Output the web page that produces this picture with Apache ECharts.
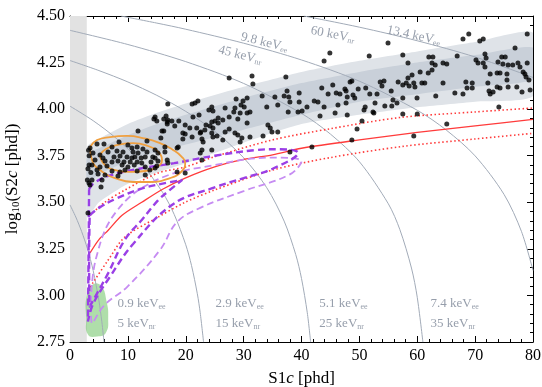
<!DOCTYPE html>
<html><head><meta charset="utf-8">
<script src="https://cdn.jsdelivr.net/npm/echarts@6/dist/echarts.min.js"></script>
<style>html,body{margin:0;padding:0;background:#fff}#c{width:542px;height:387px}</style>
</head><body><div id="c"></div>
<script>
// ---------- DATA ----------
const xTicks = [0,10,20,30,40,50,60,70,80];
const yTicks = [2.75,3.00,3.25,3.50,3.75,4.00,4.25,4.50];

// ER band (S1 sample points, outer & inner bounds of log10 S2)
const bandS1      = [3,    5,    10,   15,   20,   30,   40,   50,   60,   70,   80];
const erOuterTop  = [3.80, 3.84, 3.92, 3.98, 4.03, 4.12, 4.20, 4.26, 4.31, 4.36, 4.41];
const erOuterBot  = [3.42, 3.50, 3.60, 3.66, 3.71, 3.82, 3.92, 3.97, 4.01, 4.04, 4.07];
const erInnerTop  = [3.76, 3.79, 3.86, 3.92, 3.97, 4.06, 4.14, 4.20, 4.25, 4.29, 4.33];
const erInnerBot  = [3.60, 3.65, 3.72, 3.77, 3.81, 3.89, 3.97, 4.04, 4.08, 4.12, 4.16];

// NR band lines
const nrMedian = [[3.46,3.228],[5,3.30],[6.6,3.35],[9,3.43],[12.4,3.50],[16,3.57],[19.9,3.63],[25,3.69],[30,3.73],[35,3.755],[40,3.79],[50,3.835],[60,3.875],[70,3.91],[80,3.945]];
const nrUpper  = [[3.46,3.43],[6,3.50],[9.5,3.566],[15.2,3.657],[20,3.69],[25,3.745],[35,3.835],[45,3.895],[57,3.955],[70,3.985],[80,4.006]];
const nrLower  = [[3.46,3.045],[4,3.07],[6.6,3.19],[9.5,3.314],[15.2,3.42],[19.9,3.50],[25,3.566],[35,3.673],[45,3.74],[57.5,3.80],[70,3.84],[80,3.87]];

// Iso-energy lines (S1, log10 S2)
const isoA = [[0,3.486],[1,3.421],[2,3.344],[3,3.252],[4,3.134],[5,2.971],[5.5,2.859],[5.88,2.749]];
const isoB = [[0,4.016],[4,3.938],[8,3.843],[12,3.722],[16,3.553],[18,3.435],[20,3.272],[21,3.160],[22,3.009],[22.5,2.907],[23.08,2.749]];
const isoC = [[0,4.261],[5,4.207],[10,4.146],[15,4.074],[20,3.988],[25,3.881],[30,3.739],[34,3.578],[37,3.399],[39,3.220],[40,3.091],[41,2.907],[41.58,2.749]];
const isoD = [[0,4.423],[10,4.347],[20,4.255],[30,4.138],[40,3.977],[45,3.866],[50,3.718],[55,3.492],[57,3.353],[59,3.147],[60,2.990],[60.98,2.749]];
const isoE = [[8.8,4.5],[15,4.462],[20,4.429],[30,4.354],[40,4.264],[50,4.150],[60,3.994],[65,3.888],[70,3.749],[75,3.542],[78,3.344],[80,3.134]];
const isoF = [[40.4,4.5],[50,4.440],[60,4.367],[70,4.280],[80,4.170]];

// Contours
const orangeOuter = [[3.46,3.797],[4.67,3.834],[6.91,3.850],[9.85,3.856],[12.6,3.845],[15.55,3.818],[17.8,3.781],[19.35,3.743],[19.9,3.711],[19.35,3.668],[17.3,3.630],[13.8,3.609],[10.9,3.609],[7.78,3.630],[5.18,3.673],[3.8,3.727],[3.46,3.797]];
const orangeInner = [[5.18,3.754],[6.22,3.786],[8.29,3.808],[10.9,3.818],[13.5,3.802],[15.2,3.770],[15.9,3.727],[15.0,3.689],[13.0,3.668],[10.4,3.663],[7.78,3.673],[5.87,3.706],[5.18,3.754]];
const purpleDarkSmall = [[3.4,3.43],[5,3.47],[8,3.52],[12,3.57],[16,3.60],[19.4,3.62],[17,3.56],[15.2,3.51],[12.4,3.405],[9.5,3.30],[6.6,3.12],[4.3,2.99],[3.4,2.94],[3.3,3.2],[3.4,3.43]];
const purpleDarkBig = [[3.3,3.57],[4,3.60],[6.5,3.64],[12,3.68],[18,3.71],[25,3.75],[32,3.78],[36,3.785],[39.4,3.765],[35,3.68],[30,3.63],[25,3.58],[17.8,3.49],[10.9,3.276],[6.9,3.10],[4.0,2.955],[3.1,2.86],[3.2,3.2],[3.3,3.57]];
const purpleLight = [[3.6,2.95],[3.8,2.85],[6,2.95],[9.85,3.045],[15.55,3.244],[18.5,3.394],[22.5,3.47],[30,3.56],[38,3.65],[40,3.72],[35,3.74],[25,3.70],[15,3.62],[8,3.45],[4.5,3.2],[3.6,2.95]];
const greenBlob = [[2.9,3.0],[4.0,3.06],[5.4,3.05],[6.3,2.97],[6.6,2.88],[6.2,2.80],[4.7,2.78],[3.1,2.79],[2.8,2.88]];
const thresholdS1 = [0, 2.9];

// Events
const events = [
[14.5,3.947],[15.0,3.936],[16.2,3.947],[16.8,3.931],[17.6,3.936],[11.75,3.883],[16.2,3.883],[15.7,3.845],[8.47,3.824],[13.3,3.829],
[4.67,3.813],[5.87,3.813],[3.46,3.791],[7.26,3.797],[10.0,3.808],[10.7,3.791],[11.6,3.797],[12.6,3.786],[16.4,3.797],[6.57,3.770],
[8.12,3.775],[9.16,3.770],[10.9,3.770],[11.75,3.765],[13.3,3.770],[14.7,3.781],[3.97,3.765],[5.18,3.754],[5.70,3.738],[7.60,3.743],
[8.64,3.748],[9.85,3.743],[10.7,3.738],[11.2,3.743],[12.3,3.738],[13.0,3.743],[14.3,3.743],[4.32,3.727],[6.05,3.722],[7.26,3.716],
[8.29,3.722],[9.33,3.716],[10.4,3.716],[11.6,3.716],[12.4,3.711],[14.0,3.716],[15.2,3.722],[16.8,3.727],[3.80,3.700],[5.18,3.689],
[6.39,3.695],[9.0,3.700],[10.0,3.689],[11.1,3.700],[13.0,3.689],[15.0,3.695],[4.67,3.673],[7.26,3.668],[8.64,3.663],[9.5,3.673],
[11.6,3.668],[13.8,3.673],[4.84,3.652],[6.05,3.646],[8.29,3.641],[3.80,3.620],[5.53,3.620],[14.7,3.684],[13.0,3.646],[3.46,3.593],
[5.36,3.582],[16.9,3.711],[3.28,3.604],[3.11,3.443],[3.0,3.62],[3.3,3.70],[3.2,3.78],[3.3,3.75],[3.6,3.66],[3.1,3.68],
[27.5,4.167],[31.45,4.178],[31.6,4.135],[33.2,4.071],[21.1,4.028],[21.6,4.033],[22.1,4.044],[29.9,4.044],[28.7,4.054],[30.6,4.060],
[34.0,4.012],[24.0,3.995],[24.7,3.990],[26.8,4.006],[29.55,4.022],[30.1,4.012],[31.1,3.985],[28.3,3.985],[30.6,3.979],[29.4,3.979],
[22.3,3.969],[21.25,3.958],[27.5,3.958],[25.6,3.952],[26.4,3.942],[25.05,3.936],[24.5,3.931],[29.0,3.947],[18.8,3.936],[19.9,3.915],
[18.1,3.910],[23.5,3.915],[24.2,3.910],[25.6,3.926],[30.6,3.926],[34.2,3.915],[34.6,3.899],[21.9,3.899],[20.7,3.899],[23.3,3.888],
[24.7,3.899],[27.5,3.893],[19.9,3.867],[22.6,3.877],[24.7,3.850],[26.4,3.834],[29.0,3.861],[29.7,3.845],[31.1,3.850],[33.35,3.856],
[34.9,3.877],[35.9,3.877],[19.5,3.840],[22.8,3.840],[23.0,3.824],[29.4,3.824],[18.7,3.797],[22.8,3.781],[24.5,3.781],[22.8,3.727],
[22.5,3.765],[18.5,3.663],[19.9,3.657],[16.9,4.028],[14.7,3.958],[16.6,3.963],[16.9,3.942],[16.8,3.920],[15.9,3.883],[19.5,3.872],
[21.1,3.850],[22.5,3.872],[24.5,3.872],[25.4,3.856],[26.8,3.877],[28.5,3.872],[18.5,3.791],[15.2,3.765],[16.4,3.770],[14.7,3.738],
[28.5,4.006],[24.5,4.012],[35.9,4.022],
[54.95,4.355],[44.9,4.301],[51.7,4.285],[43.9,4.258],[57.5,4.291],[37.3,4.173],[48.7,4.151],[48.4,4.146],[53.6,4.146],[54.25,4.151],
[56.7,4.146],[45.4,4.130],[57.5,4.130],[53.9,4.124],[49.8,4.108],[51.1,4.113],[47.5,4.108],[43.5,4.113],[37.5,4.097],[39.6,4.087],
[44.6,4.081],[46.0,4.087],[46.65,4.081],[47.7,4.097],[48.9,4.076],[51.8,4.081],[53.05,4.081],[55.5,4.097],[49.2,4.060],[47.9,4.065],
[37.0,4.071],[37.8,4.065],[38.0,4.038],[39.6,4.038],[42.2,4.044],[42.85,4.038],[35.4,4.065],[55.8,4.049],[56.5,4.033],[52.7,4.033],
[47.7,4.033],[46.3,4.022],[43.9,4.012],[40.95,4.012],[51.0,4.012],[50.8,3.995],[52.35,3.985],[54.4,4.017],[55.6,4.017],[37.7,3.985],
[39.4,3.985],[40.1,3.990],[45.8,3.979],[47.9,3.969],[43.2,3.963],[52.5,3.979],[50.45,3.936],[49.6,3.893],[48.7,3.834],[41.8,3.797],
[38.0,3.770],
[68.9,4.403],[67.9,4.377],[70.8,4.366],[71.4,4.377],[79.0,4.403],[66.9,4.285],[71.7,4.296],[71.9,4.275],[62.0,4.280],[62.7,4.280],
[76.9,4.328],[62.55,4.248],[63.1,4.237],[58.4,4.248],[64.45,4.248],[65.1,4.242],[70.15,4.264],[70.5,4.248],[74.6,4.280],[75.2,4.280],
[73.95,4.253],[74.8,4.242],[75.7,4.237],[76.5,4.237],[77.4,4.248],[77.75,4.226],[79.0,4.248],[71.4,4.248],[71.7,4.226],[60.5,4.199],
[61.9,4.194],[62.55,4.210],[59.1,4.183],[58.4,4.167],[72.6,4.189],[73.8,4.194],[74.3,4.194],[75.5,4.189],[78.3,4.199],[78.6,4.189],
[78.8,4.173],[79.3,4.156],[75.5,4.156],[59.4,4.140],[59.6,4.119],[58.1,4.140],[58.6,4.124],[60.8,4.140],[61.3,4.140],[64.45,4.140],
[68.4,4.146],[69.5,4.140],[68.6,4.113],[69.5,4.113],[72.2,4.140],[73.8,4.119],[72.4,4.097],[72.6,4.081],[73.1,4.092],[74.3,4.113],
[75.7,4.119],[77.2,4.119],[78.1,4.092],[79.5,4.103],[66.5,4.087],[67.9,4.081],[63.2,4.071],[57.5,4.060],[59.96,4.060],[74.1,4.012],
[57.5,3.974],[60.0,3.974],[65.1,3.920],[59.4,3.856]
];

// Energy labels: [S1, log10S2, main, sub, rotate]
const energyLabels = [
  [8.1, 2.954, '0.9 keV', 'ee', 0], [8.1, 2.847, '5 keV', 'nr', 0],
  [25.05, 2.954, '2.9 keV', 'ee', 0], [25.05, 2.847, '15 keV', 'nr', 0],
  [43.0, 2.954, '5.1 keV', 'ee', 0], [43.0, 2.847, '25 keV', 'nr', 0],
  [62.2, 2.954, '7.4 keV', 'ee', 0], [62.2, 2.847, '35 keV', 'nr', 0]
];
const energyLabelsRot = [
  [33.6, 4.358, '9.8 keV', 'ee', -14], [29.4, 4.29, '45 keV', 'nr', -14],
  [45.4, 4.400, '60 keV', 'nr', -11], [59.4, 4.395, '13.4 keV', 'ee', -12]
];

// ---------- CHART ----------
const serif = 'Liberation Serif';
const chart = echarts.init(document.getElementById('c'), null, {renderer:'canvas'});

function zip(xs, ys){ return xs.map((x,i)=>[x, ys[i]]); }
function bandSeries(top, bot, color, z){
  return {type:'custom', z:z, silent:true, clip:true, data:[[40,3.5]],
    renderItem:function(params, api){
      const pts = top.map(p=>api.coord(p)).concat(bot.slice().reverse().map(p=>api.coord(p)));
      return {type:'polygon', shape:{points:pts, smooth:0.2}, style:{fill:color}};
    }};
}
function polySeries(poly, color, z){
  return {type:'custom', z:z, silent:true, clip:true, data:[[40,3.5]],
    renderItem:function(params, api){
      return {type:'polygon', shape:{points:poly.map(p=>api.coord(p)), smooth:0.5}, style:{fill:color}};
    }};
}
function lineS(data, color, width, type, z, smooth){
  return {type:'line', data:data, symbol:'none', smooth: smooth===undefined?0.3:smooth, z:z, silent:true,
    lineStyle:{color:color, width:width, type:type}, clip:true};
}
const axisCommon = {
  axisLine:{show:true, onZero:false, lineStyle:{color:'#000', width:1}},
  axisTick:{show:true, inside:true, length:6, lineStyle:{color:'#000'}},
  minorTick:{show:true, splitNumber:5, length:3, lineStyle:{color:'#000'}},
  splitLine:{show:false}
};
const labelRich = {
  a:{fontFamily:serif, fontSize:13, color:'#7c8696'},
  s:{fontFamily:serif, fontSize:8, color:'#7c8696', verticalAlign:'bottom', padding:[6,0,0,0]}
};
function labelSeries(arr){
  return {type:'scatter', z:20, silent:true, symbolSize:1, itemStyle:{color:'rgba(0,0,0,0)'},
    data: arr.map(l=>({value:[l[0],l[1]], label:{show:true, rotate:l[4], position: l[4]===0?'right':'inside',
      formatter:'{a|'+l[2]+'}{s|'+l[3]+'}', rich:labelRich, distance:0}}))};
}

const iso = [isoA, isoB, isoC, isoD, isoE, isoF];
const series = [
  {type:'line', data:[], z:0, markArea:{silent:true, itemStyle:{color:'#e2e2e2'}, data:[[{xAxis:thresholdS1[0]},{xAxis:thresholdS1[1]}]]}},
  bandSeries(zip(bandS1, erOuterTop), zip(bandS1, erOuterBot), '#dfe3e8', 1),
  bandSeries(zip(bandS1, erInnerTop), zip(bandS1, erInnerBot), '#c9d0d9', 2),
  polySeries(greenBlob, 'rgba(110,195,100,0.55)', 3)
].concat(iso.map(d=>lineS(d, '#a2abb8', 1, 'solid', 4, 0.3)))
 .concat([
  lineS(nrMedian, '#ff3b3b', 1.3, 'solid', 6),
  lineS(nrUpper, '#ff3b3b', 1.6, [1.5,2.5], 6),
  lineS(nrLower, '#ff3b3b', 1.6, [1.5,2.5], 6),
  lineS(purpleLight, '#c68cf2', 1.8, [7,4], 7, 0.4),
  lineS(purpleDarkBig, '#9a3fe6', 2.4, [7,4], 8, 0.4),
  lineS(purpleDarkSmall, '#9a3fe6', 2.4, [7,4], 8, 0.4),
  lineS(orangeOuter, '#f0a040', 1.8, 'solid', 9, 0.5),
  lineS(orangeInner, '#f0a040', 1.8, 'solid', 9, 0.5),
  {type:'scatter', data:events, symbolSize:5, itemStyle:{color:'#000'}, z:12, silent:true},
  labelSeries(energyLabels),
  labelSeries(energyLabelsRot)
]);

chart.setOption({
  animation:false,
  backgroundColor:'#fff',
  grid:{left:70, right:9, top:16, bottom:45, containLabel:false, outerBoundsMode:'none'},
  xAxis:[
    Object.assign({type:'value', min:0, max:80, interval:10, position:'bottom',
      axisLabel:{fontFamily:serif, fontSize:16, color:'#000', margin:6},
      name:'{a|S1}{i|c}{a| [phd]}', nameLocation:'middle', nameGap:28,
      nameTextStyle:{rich:{a:{fontFamily:serif, fontSize:17, color:'#000'}, i:{fontFamily:serif, fontSize:17, fontStyle:'italic', color:'#000'}}}
    }, axisCommon),
    Object.assign({type:'value', min:0, max:80, interval:10, position:'top', axisLabel:{show:false}}, axisCommon)
  ],
  yAxis:[
    Object.assign({type:'value', min:2.75, max:4.5, interval:0.25, position:'left',
      axisLabel:{fontFamily:serif, fontSize:16, color:'#000', margin:5, formatter:v=>v.toFixed(2)},
      name:'{a|log}{s|10}{a|(S2}{i|c}{a| [phd])}', nameLocation:'middle', nameGap:48, nameRotate:90,
      nameTextStyle:{rich:{a:{fontFamily:serif, fontSize:17, color:'#000'}, s:{fontFamily:serif, fontSize:11, color:'#000', verticalAlign:'bottom', padding:[8,0,0,0]}, i:{fontFamily:serif, fontSize:17, fontStyle:'italic', color:'#000'}}}
    }, axisCommon),
    Object.assign({type:'value', min:2.75, max:4.5, interval:0.25, position:'right', axisLabel:{show:false}}, axisCommon)
  ],
  series: series
});
</script></body></html>
